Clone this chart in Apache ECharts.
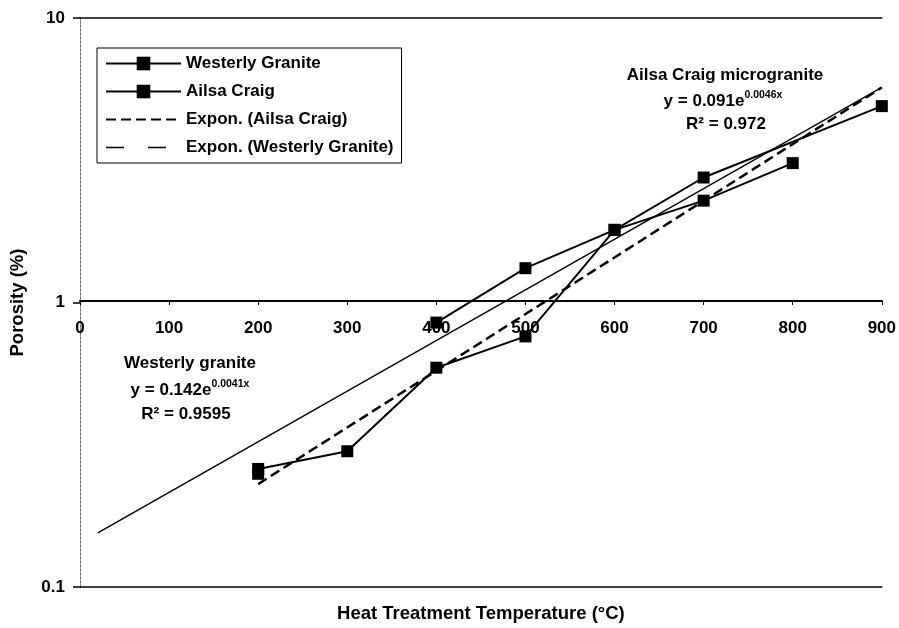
<!DOCTYPE html>
<html>
<head>
<meta charset="utf-8">
<script src="https://cdn.jsdelivr.net/npm/echarts@6/dist/echarts.min.js"></script>
<style>
html,body{margin:0;padding:0;background:#fff;}
#chart{width:899px;height:628px;}
</style>
</head>
<body>
<div id="chart"></div>
<script>
// ---- data ----
var xTicks = [0, 100, 200, 300, 400, 500, 600, 700, 800, 900];
var yTicks = [0.1, 1, 10];

var westerlyTemp = [200, 300, 400, 500, 600, 700, 900];
var westerlyPorosity = [0.25, null, 0.85, 1.32, 1.8, 2.75, 4.9];

var ailsaTemp = [200, 300, 400, 500, 600, 700, 800];
var ailsaPorosity = [0.26, 0.30, 0.59, 0.76, 1.8, 2.28, 3.09];

// trend lines (straight on log axis): end points
var ailsaFitTemp = [200, 900];
var ailsaFitPorosity = [0.23, 5.7];
var westerlyFitTemp = [20, 900];
var westerlyFitPorosity = [0.155, 5.7];

var seriesNames = ['Westerly Granite', 'Ailsa Craig', 'Expon. (Ailsa Craig)', 'Expon. (Westerly Granite)'];

function pairs(xs, ys) {
  return xs.map(function (x, i) { return [x, ys[i]]; });
}

var FONT = "'Liberation Sans', Arial, sans-serif";
var FS = 17;
var FW = 'bold';

var chart = echarts.init(document.getElementById('chart'), null, {renderer: 'canvas'});
var option = {
  backgroundColor: '#ffffff',
  animation: false,
  textStyle: {fontFamily: FONT, color: '#000'},
  grid: {left: 80, right: 13, top: 18, bottom: 38, containLabel: false},
  legend: {
    orient: 'vertical',
    left: 97, top: 48,
    padding: [7, 8, 7, 8],
    itemGap: 11,
    itemWidth: 75, itemHeight: 17,
    borderColor: '#000', borderWidth: 1,
    backgroundColor: '#fff',
    textStyle: {fontSize: FS, fontWeight: FW, color: '#000', fontFamily: FONT},
    data: [
      {name: seriesNames[0]},
      {name: seriesNames[1]},
      {name: seriesNames[2], itemStyle: {opacity: 0}},
      {name: seriesNames[3], itemStyle: {opacity: 0}, lineStyle: {type: [18, 24], width: 1.5}}
    ]
  },
  xAxis: [
    {
      type: 'value', min: xTicks[0], max: xTicks[xTicks.length - 1], interval: 100,
      position: 'bottom', offset: -286,
      axisLine: {show: true, onZero: false, lineStyle: {color: '#000', width: 2.2}},
      axisTick: {show: true, length: 4, lineStyle: {color: '#000', width: 1}},
      axisLabel: {show: true, margin: 19, fontSize: FS, fontWeight: FW, color: '#000', fontFamily: FONT,
                  showMinLabel: true, showMaxLabel: true},
      splitLine: {show: false}
    },
    {
      type: 'value', min: xTicks[0], max: xTicks[xTicks.length - 1], interval: 100,
      position: 'bottom',
      axisLine: {show: true, onZero: false, lineStyle: {color: '#000', width: 1.5}},
      axisTick: {show: false}, axisLabel: {show: false}, splitLine: {show: false},
      name: 'Heat Treatment Temperature (°C)', nameLocation: 'middle', nameGap: 17,
      nameTextStyle: {fontSize: 18.5, fontWeight: 'bold', color: '#000', fontFamily: FONT}
    },
    {
      type: 'value', min: xTicks[0], max: xTicks[xTicks.length - 1], interval: 100,
      position: 'top',
      axisLine: {show: true, onZero: false, lineStyle: {color: '#000', width: 1.5}},
      axisTick: {show: false}, axisLabel: {show: false}, splitLine: {show: false}
    }
  ],
  yAxis: [
    {
      type: 'log', logBase: 10, min: yTicks[0], max: yTicks[yTicks.length - 1],
      position: 'left',
      axisLine: {show: true, lineStyle: {color: '#666', width: 1, type: [2, 2]}},
      axisTick: {show: true, length: 7, lineStyle: {color: '#000', width: 1.5}},
      axisLabel: {margin: 15, fontSize: FS, fontWeight: FW, color: '#000', fontFamily: FONT},
      splitLine: {show: false},
      minorTick: {show: false}, minorSplitLine: {show: false},
      name: 'Porosity (%)', nameLocation: 'middle', nameGap: 53,
      nameTextStyle: {fontSize: 18.5, fontWeight: 'bold', color: '#000', fontFamily: FONT}
    },
    {
      type: 'log', logBase: 10, min: yTicks[0], max: yTicks[yTicks.length - 1],
      position: 'right',
      axisLine: {show: true, lineStyle: {color: '#666', width: 1, type: [2, 2]}},
      axisTick: {show: false}, axisLabel: {show: false}, splitLine: {show: false}
    }
  ],
  series: [
    {
      name: seriesNames[0], type: 'line', xAxisIndex: 0, yAxisIndex: 0,
      data: pairs(westerlyTemp, westerlyPorosity),
      connectNulls: false,
      symbol: 'rect', symbolSize: 12, showSymbol: true,
      lineStyle: {color: '#000', width: 2},
      itemStyle: {color: '#000'}, z: 4
    },
    {
      name: seriesNames[1], type: 'line', xAxisIndex: 0, yAxisIndex: 0,
      data: pairs(ailsaTemp, ailsaPorosity),
      symbol: 'rect', symbolSize: 12, showSymbol: true,
      lineStyle: {color: '#000', width: 2},
      itemStyle: {color: '#000'}, z: 4
    },
    {
      name: seriesNames[2], type: 'line', xAxisIndex: 0, yAxisIndex: 0,
      data: pairs(ailsaFitTemp, ailsaFitPorosity),
      symbol: 'none', showSymbol: false,
      lineStyle: {color: '#000', width: 2.5, type: [10, 5]},
      itemStyle: {color: '#000'}, z: 3
    },
    {
      name: seriesNames[3], type: 'line', xAxisIndex: 0, yAxisIndex: 0,
      data: pairs(westerlyFitTemp, westerlyFitPorosity),
      symbol: 'none', showSymbol: false,
      lineStyle: {color: '#000', width: 1.4, type: 'solid'},
      itemStyle: {color: '#000'}, z: 3
    }
  ],
  graphic: [
    {type: 'text', x: 725, y: 75, z: 10,
     style: {text: 'Ailsa Craig microgranite', fill: '#000', fontSize: FS, fontWeight: FW, fontFamily: FONT, align: 'center', verticalAlign: 'middle'}},
    {type: 'text', x: 723, y: 100, z: 10,
     style: {text: '{n|y = 0.091e}{s|0.0046x}', align: 'center', verticalAlign: 'middle', fill: '#000',
             rich: {n: {fontSize: FS, fontWeight: FW, fontFamily: FONT, fill: '#000', verticalAlign: 'bottom', lineHeight: 20},
                    s: {fontSize: 10.5, fontWeight: FW, fontFamily: FONT, fill: '#000', verticalAlign: 'bottom', padding: [0, 0, 9, 0]}}}},
    {type: 'text', x: 726, y: 124, z: 10,
     style: {text: 'R² = 0.972', fill: '#000', fontSize: FS, fontWeight: FW, fontFamily: FONT, align: 'center', verticalAlign: 'middle'}},

    {type: 'text', x: 190, y: 363, z: 10,
     style: {text: 'Westerly granite', fill: '#000', fontSize: FS, fontWeight: FW, fontFamily: FONT, align: 'center', verticalAlign: 'middle'}},
    {type: 'text', x: 190, y: 389, z: 10,
     style: {text: '{n|y = 0.142e}{s|0.0041x}', align: 'center', verticalAlign: 'middle', fill: '#000',
             rich: {n: {fontSize: FS, fontWeight: FW, fontFamily: FONT, fill: '#000', verticalAlign: 'bottom', lineHeight: 20},
                    s: {fontSize: 10.5, fontWeight: FW, fontFamily: FONT, fill: '#000', verticalAlign: 'bottom', padding: [0, 0, 9, 0]}}}},
    {type: 'text', x: 186, y: 414, z: 10,
     style: {text: 'R² = 0.9595', fill: '#000', fontSize: FS, fontWeight: FW, fontFamily: FONT, align: 'center', verticalAlign: 'middle'}}
  ]
};
chart.setOption(option);
</script>
</body>
</html>
